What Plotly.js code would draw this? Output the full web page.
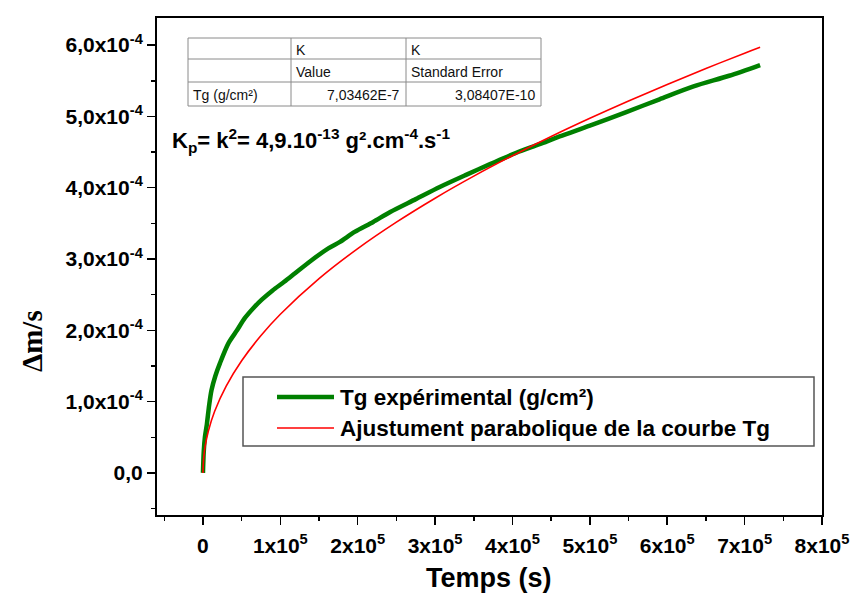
<!DOCTYPE html>
<html>
<head>
<meta charset="utf-8">
<script src="https://cdn.plot.ly/plotly-3.0.1.min.js"></script>
<style>html,body{margin:0;padding:0;background:#fff}#chart{width:852px;height:598px}</style>
</head>
<body>
<div id="chart"></div>
<script>
// Experimental curve Tg (time in s, Δm/s in g/cm²)
const expTime = [0, 1000, 2500, 5000, 8000, 11000, 16000, 22000, 33000, 44000, 54000, 65000, 76000, 90000, 105000, 119000, 140000, 162000, 177000, 196000, 220000, 242000, 275000, 306000, 340000, 371000, 405000, 435000, 461000, 500000, 547000, 590000, 634000, 680000, 720000];
const expValues = [0, 0.30e-4, 0.50e-4, 0.68e-4, 0.95e-4, 1.16e-4, 1.36e-4, 1.54e-4, 1.82e-4, 2.00e-4, 2.17e-4, 2.31e-4, 2.43e-4, 2.56e-4, 2.68e-4, 2.80e-4, 2.98e-4, 3.15e-4, 3.24e-4, 3.38e-4, 3.52e-4, 3.66e-4, 3.84e-4, 4.01e-4, 4.18e-4, 4.33e-4, 4.49e-4, 4.61e-4, 4.72e-4, 4.87e-4, 5.06e-4, 5.24e-4, 5.42e-4, 5.57e-4, 5.72e-4];

// Parabolic fit curve
const fitTime = [0, 1000, 3000, 7000, 15000, 30000, 50000, 75000, 100000, 150000, 200000, 250000, 300000, 350000, 400000, 450000, 500000, 550000, 600000, 650000, 700000, 720000];
const fitValues = [0, 0.222e-4, 0.385e-4, 0.589e-4, 0.862e-4, 1.218e-4, 1.573e-4, 1.927e-4, 2.225e-4, 2.725e-4, 3.146e-4, 3.517e-4, 3.853e-4, 4.162e-4, 4.449e-4, 4.719e-4, 4.974e-4, 5.217e-4, 5.449e-4, 5.672e-4, 5.886e-4, 5.969e-4];

const seriesNames = ["Tg expérimental (g/cm²)", "Ajustument parabolique de la courbe Tg"];

const xTickVals = [0, 100000, 200000, 300000, 400000, 500000, 600000, 700000, 800000];
const xTickText = ["0", "1x10<sup>5</sup>", "2x10<sup>5</sup>", "3x10<sup>5</sup>", "4x10<sup>5</sup>", "5x10<sup>5</sup>", "6x10<sup>5</sup>", "7x10<sup>5</sup>", "8x10<sup>5</sup>"];
const yTickVals = [0, 1e-4, 2e-4, 3e-4, 4e-4, 5e-4, 6e-4];
const yTickText = ["0,0", "1,0x10<sup>-4</sup>", "2,0x10<sup>-4</sup>", "3,0x10<sup>-4</sup>", "4,0x10<sup>-4</sup>", "5,0x10<sup>-4</sup>", "6,0x10<sup>-4</sup>"];

// Fit table
const tableHeader1 = ["", "K", "K"];
const tableHeader2 = ["", "Value", "Standard Error"];
const tableRow = ["Tg (g/cm²)", "7,03462E-7", "3,08407E-10"];

const kpText = "K<sub>p</sub>= k<sup>2</sup>= 4,9.10<sup>-13</sup> g².cm<sup>-4</sup>.s<sup>-1</sup>";

// pixel -> paper helpers (plot area: x 157..822, y 18..515)
const L = 157, R = 822, T = 18, B = 515;
const px = x => (x - L) / (R - L);
const py = y => (B - y) / (B - T);

const SANS = "Liberation Sans, Arial, sans-serif";
const SERIF = "Liberation Serif, Times New Roman, serif";

const traces = [
  {x: expTime, y: expValues, type: "scatter", mode: "lines", name: seriesNames[0],
   line: {color: "#008000", width: 4.5, shape: "spline", smoothing: 0.8}, showlegend: false},
  {x: fitTime, y: fitValues, type: "scatter", mode: "lines", name: seriesNames[1],
   line: {color: "#ff0000", width: 1.6, shape: "spline"}, showlegend: false}
];

const shapes = [];
const annotations = [];

// table geometry
const tX = [188, 291, 406, 541];
const tY = [38, 59, 82, 106];
const gray = "#8a8a8a";
shapes.push({type: "rect", xref: "paper", yref: "paper", x0: px(tX[0]), x1: px(tX[3]), y0: py(tY[0]), y1: py(tY[3]),
  line: {color: gray, width: 1}, fillcolor: "rgba(255,255,255,0)"});
for (let i = 1; i < 3; i++) {
  shapes.push({type: "line", xref: "paper", yref: "paper", x0: px(tX[i]), x1: px(tX[i]), y0: py(tY[0]), y1: py(tY[3]), line: {color: gray, width: 1}});
  shapes.push({type: "line", xref: "paper", yref: "paper", x0: px(tX[0]), x1: px(tX[3]), y0: py(tY[i]), y1: py(tY[i]), line: {color: gray, width: 1}});
}
const rows = [tableHeader1, tableHeader2, tableRow];
rows.forEach((row, r) => {
  row.forEach((txt, c) => {
    if (!txt) return;
    const yc = (tY[r] + tY[r + 1]) / 2 + 1;
    const rightAlign = (r === 2 && c > 0);
    annotations.push({xref: "paper", yref: "paper", showarrow: false, text: txt,
      x: rightAlign ? px(tX[c + 1] - 4) : px(tX[c] + 3), y: py(yc),
      xanchor: rightAlign ? "right" : "left", yanchor: "middle",
      font: {family: SANS, size: 14, color: "#111"}});
  });
});

// Kp annotation
annotations.push({xref: "paper", yref: "paper", showarrow: false, text: kpText,
  x: px(170), y: py(140), xanchor: "left", yanchor: "middle",
  font: {family: SANS, size: 22, color: "#000", weight: "bold"}});

// manual legend
shapes.push({type: "rect", xref: "paper", yref: "paper", x0: px(243), x1: px(814), y0: py(377), y1: py(446),
  line: {color: "#555", width: 1.5}, fillcolor: "#fff"});
const legColors = ["#008000", "#ff0000"], legWidths = [4.5, 1.6], legY = [397, 428];
for (let i = 0; i < 2; i++) {
  shapes.push({type: "line", xref: "paper", yref: "paper", x0: px(277), x1: px(334), y0: py(legY[i]), y1: py(legY[i]),
    line: {color: legColors[i], width: legWidths[i]}});
  annotations.push({xref: "paper", yref: "paper", showarrow: false, text: seriesNames[i],
    x: px(338), y: py(legY[i]), xanchor: "left", yanchor: "middle",
    font: {family: SANS, size: 22.5, color: "#000", weight: "bold"}});
}

// y-axis title (off-centre as in reference)
annotations.push({xref: "paper", yref: "paper", showarrow: false, text: "Δm/s", textangle: -90,
  x: px(32), y: py(341), xanchor: "center", yanchor: "middle",
  font: {family: SERIF, size: 29, color: "#000", weight: "bold"}});

// x-axis title
annotations.push({xref: "paper", yref: "paper", showarrow: false, text: "Temps (s)",
  x: px(489), y: py(578), xanchor: "center", yanchor: "middle",
  font: {family: SANS, size: 27, color: "#000", weight: "bold"}});

const layout = {
  width: 852, height: 598,
  margin: {l: L, r: 852 - R, t: T, b: 598 - B},
  paper_bgcolor: "#fff", plot_bgcolor: "#fff",
  showlegend: false,
  xaxis: {
    range: [-59400, 800000], showgrid: false, zeroline: false,
    showline: true, mirror: true, linecolor: "#000", linewidth: 2,
    ticks: "outside", ticklen: 8, tickwidth: 1.5, tickcolor: "#000",
    tickmode: "array", tickvals: xTickVals, ticktext: xTickText,
    tickfont: {family: SANS, size: 21, color: "#000", weight: "bold"},
    ticklabelstandoff: 3,
    minor: {ticks: "outside", tickmode: "linear", tick0: 0, dtick: 50000, ticklen: 4, tickwidth: 1.5, tickcolor: "#000"}
  },
  yaxis: {
    range: [-0.59e-4, 6.38e-4], showgrid: false, zeroline: false,
    showline: true, mirror: true, linecolor: "#000", linewidth: 2,
    ticks: "outside", ticklen: 8, tickwidth: 1.5, tickcolor: "#000",
    tickmode: "array", tickvals: yTickVals, ticktext: yTickText,
    tickfont: {family: SANS, size: 21, color: "#000", weight: "bold"},
    minor: {ticks: "outside", tickmode: "linear", tick0: 0, dtick: 0.5e-4, ticklen: 4, tickwidth: 1.5, tickcolor: "#000"}
  },
  shapes: shapes,
  annotations: annotations
};

Plotly.newPlot("chart", traces, layout, {displayModeBar: false, staticPlot: true});
</script>
</body>
</html>
